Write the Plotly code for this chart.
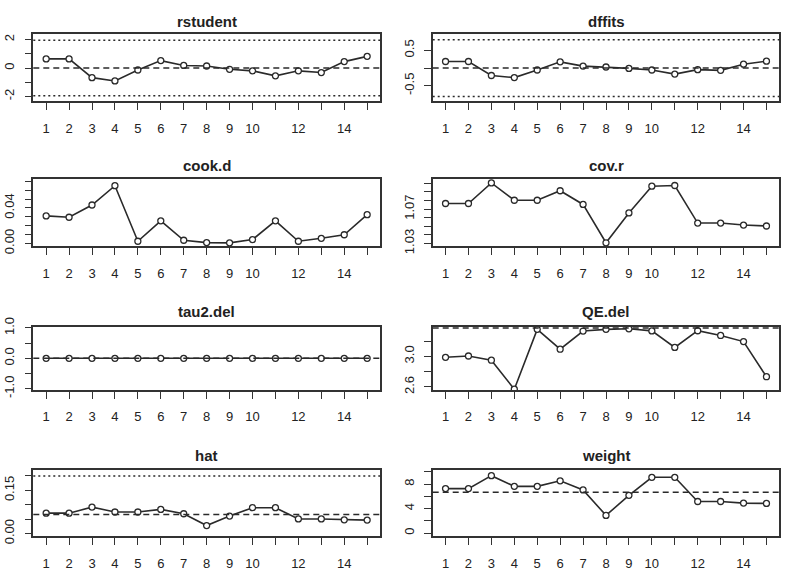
import plotly.graph_objects as go

# ---------------- data ----------------
studies = list(range(1, 16))
x_tick_text = ["1", "2", "3", "4", "5", "6", "7", "8", "9", "10", "", "12", "", "14", ""]

rstudent = [0.64, 0.64, -0.68, -0.91, -0.14, 0.52, 0.18, 0.14, -0.09, -0.20, -0.55, -0.20, -0.32, 0.45, 0.82]
dffits = [0.185, 0.185, -0.21, -0.27, -0.055, 0.175, 0.055, 0.03, -0.01, -0.055, -0.17, -0.045, -0.065, 0.11, 0.195]
cook_d = [0.031, 0.0295, 0.0433, 0.065, 0.0025, 0.0255, 0.0036, 0.001, 0.0007, 0.0044, 0.0255, 0.0025, 0.0058, 0.0098, 0.0324]
cov_r = [1.0764, 1.0764, 1.1003, 1.0802, 1.0802, 1.0912, 1.0753, 1.0308, 1.0655, 1.0965, 1.0973, 1.0537, 1.0537, 1.0514, 1.0503]
tau2_del = [0.0] * 15
qe_del = [2.987, 3.004, 2.949, 2.57, 3.353, 3.093, 3.331, 3.353, 3.36, 3.333, 3.116, 3.335, 3.273, 3.193, 2.733]
hat = [0.071, 0.071, 0.092, 0.075, 0.075, 0.084, 0.069, 0.028, 0.061, 0.090, 0.090, 0.051, 0.051, 0.048, 0.047]
weight = [7.26, 7.26, 9.37, 7.63, 7.63, 8.53, 7.05, 2.89, 6.16, 9.10, 9.10, 5.16, 5.16, 4.90, 4.84]

rstudent_cut = 1.96
dffits_cut = 0.80
qe_full = 3.37
hat_mean = 1 / 15
hat_cut = 3 / 15
weight_mean = 100 / 15

panels = [
    dict(title="rstudent", y=rstudent, yrange=[-2.35, 2.38],
         tickvals=[-2, -1, 0, 1, 2], ticktext=["-2", "", "0", "", "2"],
         hlines=[(rstudent_cut, "dot"), (0, "dash"), (-rstudent_cut, "dot")]),
    dict(title="dffits", y=dffits, yrange=[-0.94, 0.955],
         tickvals=[-0.5, 0, 0.5], ticktext=["-0.5", "", "0.5"],
         hlines=[(dffits_cut, "dot"), (0, "dash"), (-dffits_cut, "dot")]),
    dict(title="cook.d", y=cook_d, yrange=[-0.0033, 0.0727],
         tickvals=[0, 0.01, 0.02, 0.03, 0.04, 0.05, 0.06, 0.07],
         ticktext=["0.00", "", "", "", "0.04", "", "", ""], hlines=[]),
    dict(title="cov.r", y=cov_r, yrange=[1.0266, 1.105],
         tickvals=[1.03, 1.04, 1.05, 1.06, 1.07, 1.08, 1.09, 1.10],
         ticktext=["1.03", "", "", "", "1.07", "", "", ""], hlines=[]),
    dict(title="tau2.del", y=tau2_del, yrange=[-1.045, 1.045],
         tickvals=[-1, -0.5, 0, 0.5, 1], ticktext=["-1.0", "", "0.0", "", "1.0"],
         hlines=[(0, "dash")]),
    dict(title="QE.del", y=qe_del, yrange=[2.558, 3.39],
         tickvals=[2.6, 2.8, 3.0, 3.2], ticktext=["2.6", "", "3.0", ""],
         hlines=[(qe_full, "dash")]),
    dict(title="hat", y=hat, yrange=[-0.0095, 0.2224],
         tickvals=[0, 0.05, 0.10, 0.15, 0.20], ticktext=["0.00", "", "", "0.15", ""],
         hlines=[(hat_cut, "dot"), (hat_mean, "dash")]),
    dict(title="weight", y=weight, yrange=[-0.53, 10.37],
         tickvals=[0, 2, 4, 6, 8, 10], ticktext=["0", "", "4", "", "8", ""],
         hlines=[(weight_mean, "dash")]),
]

# ---------------- layout geometry (pixels) ----------------
W, H = 787, 578
col_px = [(33.3, 380.0), (432.7, 779.3)]
row_px = [(25.0, 94.3), (174.3, 244.0), (326.7, 392.3), (474.3, 543.3)]
title_px = [11.7, 160.0, 311.7, 460.0]

DASH = {"dot": "2px,3px", "dash": "6px,4px"}
AX = "#333333"
TXT = "#222222"
FONT = "Liberation Sans, Arial, sans-serif"

fig = go.Figure()
layout = dict(
    width=W, height=H, margin=dict(l=0, r=0, t=0, b=0),
    paper_bgcolor="white", plot_bgcolor="white", showlegend=False,
    font=dict(family=FONT, size=13, color=TXT),
)
shapes = []
annotations = []

for i, p in enumerate(panels):
    r, c = divmod(i, 2)
    k = i + 1
    xs = "" if k == 1 else str(k)
    x0, x1 = col_px[c]
    ytop, ybot = row_px[r]
    fig.add_trace(go.Scatter(
        x=studies, y=p["y"], mode="lines+markers",
        xaxis="x" + xs, yaxis="y" + xs,
        line=dict(color="#2a2a2a", width=1.6),
        marker=dict(symbol="circle", size=6, color="white",
                    line=dict(color="#2a2a2a", width=1.3)),
        hoverinfo="skip",
    ))
    layout["xaxis" + xs] = dict(
        domain=[x0 / W, x1 / W], range=[0.44, 15.56], anchor="y" + xs,
        tickvals=studies, ticktext=x_tick_text, ticks="outside", ticklen=7,
        tickwidth=1.3, tickcolor=AX, showline=True, mirror=True, linecolor=AX,
        linewidth=1.5, showgrid=False, zeroline=False,
        tickfont=dict(size=13, color=TXT, family=FONT), ticklabelstandoff=7,
    )
    layout["yaxis" + xs] = dict(
        domain=[1 - ybot / H, 1 - ytop / H], range=p["yrange"], anchor="x" + xs,
        tickvals=p["tickvals"], ticktext=p["ticktext"], ticks="outside", ticklen=7,
        tickwidth=1.3, tickcolor=AX, showline=True, mirror=True, linecolor=AX,
        linewidth=1.5, showgrid=False, zeroline=False, tickangle=-90,
        tickfont=dict(size=13, color=TXT, family=FONT), ticklabelstandoff=5,
    )
    for val, style in p["hlines"]:
        shapes.append(dict(
            type="line", xref="x" + xs + " domain", yref="y" + xs,
            x0=0, x1=1, y0=val, y1=val,
            line=dict(color="#2a2a2a", width=1.5, dash=DASH[style]),
        ))
    annotations.append(dict(
        text="<b>" + p["title"] + "</b>", xref="paper", yref="paper",
        x=(x0 + x1) / 2 / W, y=1 - title_px[r] / H, xanchor="center", yanchor="middle",
        showarrow=False, font=dict(size=15, color=TXT, family=FONT),
    ))

layout["shapes"] = shapes
layout["annotations"] = annotations
fig.update_layout(**layout)
fig.write_html("out.html")
